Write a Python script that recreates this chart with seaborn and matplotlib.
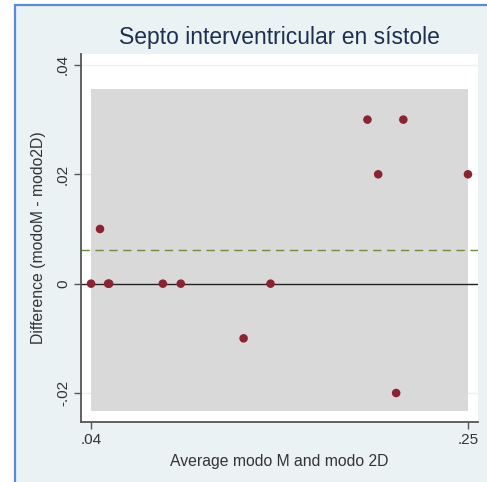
import numpy as np
import pandas as pd
import matplotlib
matplotlib.use("Agg")
import matplotlib.pyplot as plt
import seaborn as sns
from matplotlib.patches import Rectangle

# average of the two methods (x) and their difference (y)
average = [0.040, 0.045, 0.0495, 0.0501, 0.080, 0.090, 0.125, 0.140,
           0.194, 0.200, 0.210, 0.214, 0.250]
difference = [0.00, 0.01, 0.00, 0.00, 0.00, 0.00, -0.01, 0.00,
              0.03, 0.02, -0.02, 0.03, 0.02]

xticks = [0.04, 0.25]
xtick_labels = [".04", ".25"]
yticks = [-0.02, 0.0, 0.02, 0.04]
ytick_labels = ["-.02", "0", ".02", ".04"]

df = pd.DataFrame({"avg": average, "diff": difference})

mean_diff = df["diff"].mean()
sd_diff = df["diff"].std()
upper = mean_diff + 1.96 * sd_diff
lower = mean_diff - 1.96 * sd_diff

sns.set_style("white")
plt.rcParams["font.family"] = ["Liberation Sans", "DejaVu Sans"]

fig = plt.figure(figsize=(4.87, 4.82), dpi=100, facecolor="white")
# graph region background with blue frame
fig.patches.append(Rectangle((14.5 / 487, -0.01), 1.0, (482 - 5.5) / 482 + 0.01,
                             transform=fig.transFigure, facecolor="#EAF2F3",
                             edgecolor="#5B8BD0", linewidth=1.6, zorder=-10))

ax = fig.add_axes([81 / 487, 60 / 482, 397 / 487, 368 / 482])
ax.set_facecolor("white")

for yt in yticks:
    ax.axhline(yt, color="#EAF2F3", linewidth=1, zorder=0)

ax.fill_between([df["avg"].min(), df["avg"].max()], lower, upper,
                color="#D9D9D9", linewidth=0, zorder=1)
ax.axhline(mean_diff, color="#6B8E3A", linestyle=(0, (6, 4)), linewidth=1, zorder=2)
ax.axhline(0, color="#222222", linewidth=1, zorder=2)

sns.scatterplot(data=df, x="avg", y="diff", ax=ax, color="#8C2332",
                s=38, edgecolor="none", zorder=3)

ax.set_xlim(0.0344, 0.2556)
ax.set_ylim(-0.0253, 0.042)

ax.set_xticks(xticks)
ax.set_xticklabels(xtick_labels)
ax.set_yticks(yticks)
ax.set_yticklabels(ytick_labels, rotation=90, va="center")

for side in ["top", "right"]:
    ax.spines[side].set_visible(False)
for side in ["left", "bottom"]:
    ax.spines[side].set_color("#555555")
    ax.spines[side].set_linewidth(1.3)

ax.tick_params(axis="both", direction="out", length=5, width=1, color="#555555",
               labelsize=11, labelcolor="#333333", left=True, bottom=True, pad=3)

ax.set_xlabel("Average modo M and modo 2D", fontsize=11.3, color="#333333", labelpad=5)
ax.set_ylabel("Difference (modoM - modo2D)", fontsize=11.3, color="#333333", labelpad=7)
ax.set_title("Septo interventricular en sístole", fontsize=16.5, color="#1E2F50", pad=7)

fig.savefig("out.png", dpi=100, facecolor=fig.get_facecolor())
